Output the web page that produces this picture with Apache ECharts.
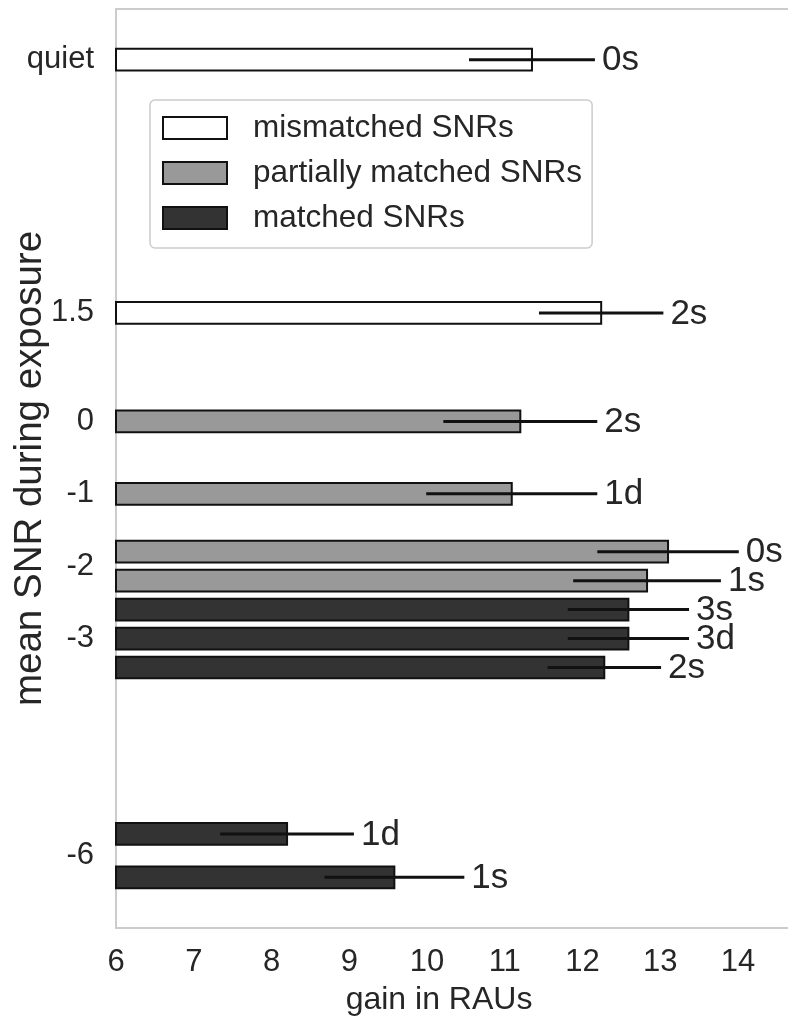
<!DOCTYPE html>
<html>
<head>
<meta charset="utf-8">
<script src="https://cdn.jsdelivr.net/npm/echarts@6/dist/echarts.min.js"></script>
<style>
  html, body { margin: 0; background: #fff; }
  #main { width: 788px; height: 1028px; }
</style>
</head>
<body>
<div id="main"></div>
<script>
var chartDom = document.getElementById('main');
var myChart = echarts.init(chartDom);
var option;

// mean SNR position of each bar, gain, error and bar label, per condition
const mismatchedPos = [5, 1.5];
const mismatchedGain = [11.35, 12.24];
const mismatchedErr = [0.81, 0.8];
const mismatchedLabels = ['0s', '2s'];

const partialPos = [0, -1, -1.8, -2.2];
const partialGain = [11.2, 11.09, 13.1, 12.83];
const partialErr = [0.99, 1.1, 0.91, 0.95];
const partialLabels = ['2s', '1d', '0s', '1s'];

const matchedPos = [-2.6, -3, -3.4, -5.7, -6.3];
const matchedGain = [12.59, 12.59, 12.28, 8.2, 9.58];
const matchedErr = [0.78, 0.78, 0.73, 0.86, 0.9];
const matchedLabels = ['3s', '3d', '2s', '1d', '1s'];

const yTickValues = [5, 1.5, 0, -1, -2, -3, -6];
const yTickLabels = ['quiet', '1.5', '0', '-1', '-2', '-3', '-6'];
const xTicks = [6, 7, 8, 9, 10, 11, 12, 13, 14];

const FONT = "'Liberation Sans', Arial, sans-serif";
const TEXT = '#262626';
const X_MIN = 6;
const BAR_HALF = 0.15;

function makeSeries(name, color, pos, gain, err, labels) {
    return {
        name: name,
        type: 'custom',
        clip: false,
        itemStyle: { color: color },
        encode: { x: 1, y: 0 },
        data: pos.map(function (p, i) { return [p, gain[i], err[i]]; }),
        renderItem: function (params, api) {
            var y = api.value(0);
            var v = api.value(1);
            var e = api.value(2);
            var a = api.coord([X_MIN, y + BAR_HALF]);
            var b = api.coord([v, y - BAR_HALF]);
            var lo = api.coord([v - e, y]);
            var hi = api.coord([v + e, y]);
            return {
                type: 'group',
                children: [
                    {
                        type: 'rect',
                        shape: { x: a[0], y: a[1], width: b[0] - a[0], height: b[1] - a[1] },
                        style: { fill: color, stroke: '#111', lineWidth: 2 }
                    },
                    {
                        type: 'line',
                        shape: { x1: lo[0], y1: lo[1], x2: hi[0], y2: hi[1] },
                        style: { stroke: '#111', lineWidth: 3 }
                    },
                    {
                        type: 'text',
                        x: hi[0] + 7,
                        y: hi[1] + 1,
                        style: {
                            text: labels[params.dataIndex],
                            fill: TEXT,
                            fontSize: 35,
                            fontFamily: FONT,
                            align: 'left',
                            verticalAlign: 'middle'
                        }
                    }
                ]
            };
        }
    };
}

option = {
    backgroundColor: '#fff',
    animation: false,
    grid: {
        left: 116,
        top: 9,
        bottom: 100,
        right: -6,
        outerBoundsMode: 'none',
        show: true,
        borderColor: '#cccccc',
        borderWidth: 2,
        backgroundColor: 'transparent'
    },
    legend: {
        orient: 'vertical',
        left: 150,
        top: 100,
        padding: [12, 10, 14, 12],
        itemGap: 13,
        itemWidth: 64,
        itemHeight: 22,
        icon: 'rect',
        borderColor: '#cccccc',
        borderWidth: 1.5,
        borderRadius: 5,
        textStyle: { color: TEXT, fontSize: 31.5, fontFamily: FONT, padding: [0, 0, 0, 21] },
        data: [
            { name: 'mismatched SNRs', itemStyle: { color: '#ffffff', borderColor: '#111', borderWidth: 2 } },
            { name: 'partially matched SNRs', itemStyle: { color: '#999999', borderColor: '#111', borderWidth: 2 } },
            { name: 'matched SNRs', itemStyle: { color: '#333333', borderColor: '#111', borderWidth: 2 } }
        ]
    },
    xAxis: {
        type: 'value',
        min: X_MIN,
        max: 14.72,
        interval: 1,
        name: 'gain in RAUs',
        nameLocation: 'middle',
        nameGap: 56,
        nameMoveOverlap: false,
        nameTextStyle: { color: TEXT, fontSize: 32, fontFamily: FONT, padding: [0, 32, 0, 0] },
        axisLine: { show: false },
        axisTick: { show: false },
        splitLine: { show: false },
        axisLabel: {
            margin: 19,
            color: TEXT,
            fontSize: 31,
            fontFamily: FONT,
            formatter: function (v) { return xTicks.indexOf(v) >= 0 ? String(v) : ''; }
        }
    },
    yAxis: {
        type: 'value',
        min: -7,
        max: 5.7,
        interval: 0.5,
        name: 'mean SNR during exposure',
        nameLocation: 'middle',
        nameGap: 66,
        nameMoveOverlap: false,
        nameTextStyle: { color: TEXT, fontSize: 38.5, fontFamily: FONT },
        axisLine: { show: false },
        axisTick: { show: false },
        splitLine: { show: false },
        axisLabel: {
            margin: 22,
            color: TEXT,
            fontSize: 31,
            fontFamily: FONT,
            formatter: function (v) {
                var i = yTickValues.indexOf(Math.round(v * 10) / 10);
                return i >= 0 ? yTickLabels[i] : '';
            }
        }
    },
    series: [
        makeSeries('mismatched SNRs', '#ffffff', mismatchedPos, mismatchedGain, mismatchedErr, mismatchedLabels),
        makeSeries('partially matched SNRs', '#999999', partialPos, partialGain, partialErr, partialLabels),
        makeSeries('matched SNRs', '#333333', matchedPos, matchedGain, matchedErr, matchedLabels)
    ]
};

option && myChart.setOption(option);
</script>
</body>
</html>
